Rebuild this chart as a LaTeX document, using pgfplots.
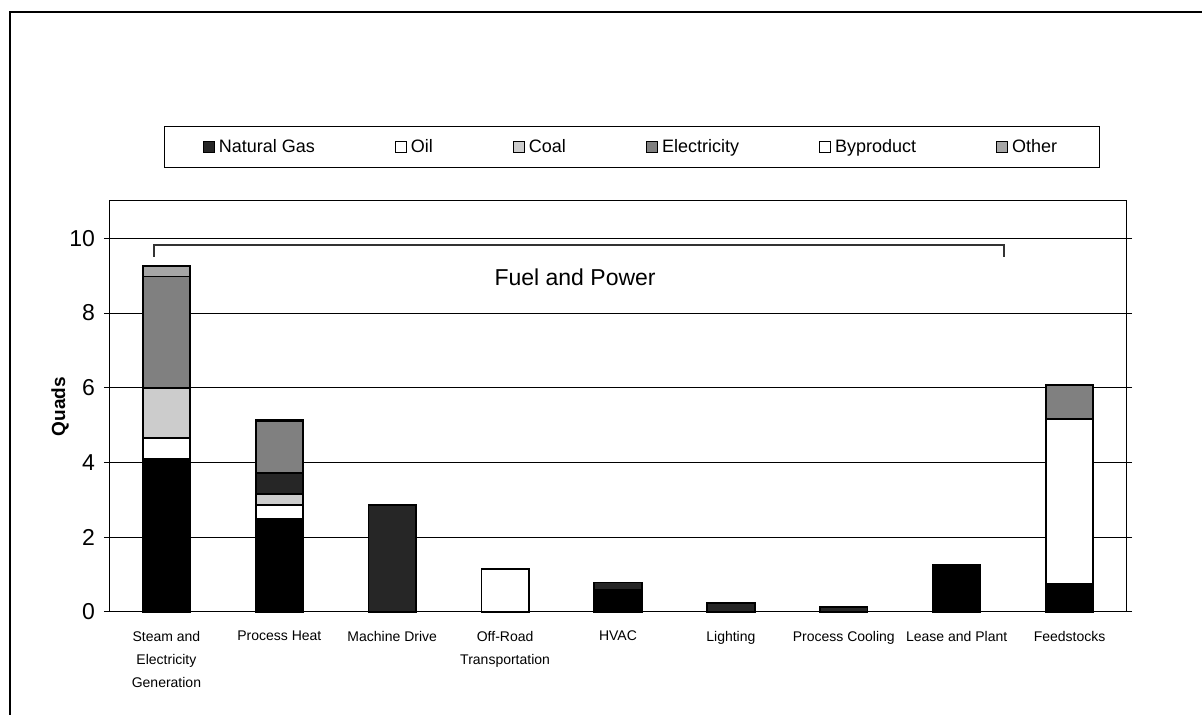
\documentclass[border=0pt]{standalone}
\usepackage{fontspec}
\setmainfont{Liberation Sans}
\usepackage{pgfplots}
\pgfplotsset{compat=1.18}

\definecolor{hatchgray}{gray}{0.50}
\definecolor{lightgray}{gray}{0.80}
\definecolor{othergray}{gray}{0.65}
\definecolor{elecdark}{gray}{0.15}

\begin{document}
\begin{tikzpicture}
\useasboundingbox (0,0) rectangle (601pt,357.5pt);
% outer frame
\draw[line width=1pt] (5pt,0pt) -- (5pt,351.5pt) -- (601pt,351.5pt);
\begin{axis}[
  at={(55pt,51.5pt)}, anchor=south west,
  scale only axis,
  width=508pt, height=205.5pt,
  xmin=-0.5, xmax=8.5,
  ymin=0, ymax=11,
  ybar stacked,
  bar width=0.42,
  ytick={0,2,4,6,8,10},
  ymajorgrids,
  grid style={black, line width=0.5pt},
  axis line style={black, line width=0.5pt},
  /pgf/number format/assume math mode=true,
  yticklabel style={font=\fontsize{11.5}{12}\selectfont, xshift=-1pt},
  ytick style={black, line width=0.5pt},
  major tick length=3pt,
  tick align=outside,
  y tick label style={anchor=east},
  xtick={0,1,2,3,4,5,6,7,8},
  xticklabels={{Steam and\\Electricity\\Generation},{Process Heat},{Machine Drive},{Off-Road\\Transportation},{HVAC},{Lighting},{Process Cooling},{Lease and Plant},{Feedstocks}},
  xticklabel style={font=\fontsize{7}{11.5}\selectfont, align=center, anchor=north, yshift=-3pt},
  x tick style={draw=none},
  extra x ticks={0.5,1.5,2.5,3.5,4.5,5.5,6.5,7.5},
  extra x tick labels={},
  extra x tick style={grid=none, tick align=center, major tick length=5pt, tick style={draw=black, line width=0.4pt}},
  ylabel={\textbf{Quads}},
  ylabel style={at={(axis description cs:-0.049,0.5)}, anchor=center, font=\fontsize{9.5}{10}\selectfont},
  legend columns=6,
  legend style={at={(0.5138,1.1314)}, anchor=center, draw=black, line width=0.5pt,
    font=\fontsize{9}{10}\selectfont, inner xsep=19pt, inner ysep=4pt,
    /tikz/every even column/.append style={column sep=38pt}},
  legend image code/.code={\draw[#1, line width=0.5pt] (0pt,-2.8pt) rectangle (5.5pt,2.8pt);},
  clip=false,
]
% Natural Gas
\addplot[fill=black, draw=black, line width=0.9pt, forget plot] coordinates {
 (0,4.10) (1,2.49) (2,0) (3,0) (4,0.60) (5,0) (6,0) (7,1.26) (8,0.75)};
% Oil
\addplot[fill=white, draw=black, line width=0.9pt, forget plot] coordinates {
 (0,0.56) (1,0.38) (2,0) (3,1.15) (4,0) (5,0) (6,0) (7,0) (8,4.42)};
% Coal
\addplot[fill=lightgray, draw=black, line width=0.9pt, forget plot] coordinates {
 (0,1.34) (1,0.29) (2,0) (3,0) (4,0) (5,0) (6,0) (7,0) (8,0)};
% Electricity
\addplot[fill=elecdark, draw=black, line width=0.9pt, forget plot] coordinates {
 (0,0) (1,0.57) (2,2.87) (3,0) (4,0.19) (5,0.25) (6,0.14) (7,0) (8,0)};
% Byproduct
\addplot[fill=hatchgray, draw=black, line width=0.9pt, forget plot] coordinates {
 (0,2.98) (1,1.37) (2,0) (3,0) (4,0) (5,0) (6,0) (7,0) (8,0.91)};
% Other
\addplot[fill=othergray, draw=black, line width=0.9pt, forget plot] coordinates {
 (0,0.29) (1,0.04) (2,0) (3,0) (4,0) (5,0) (6,0) (7,0) (8,0)};

\addlegendimage{fill=black!85, draw=black}
\addlegendentry{Natural Gas}
\addlegendimage{fill=white, draw=black}
\addlegendentry{Oil}
\addlegendimage{fill=lightgray, draw=black}
\addlegendentry{Coal}
\addlegendimage{fill=hatchgray, draw=black}
\addlegendentry{Electricity}
\addlegendimage{fill=white, draw=black}
\addlegendentry{Byproduct}
\addlegendimage{fill=othergray, draw=black}
\addlegendentry{Other}

% Fuel and Power bracket
\draw[line width=1pt, black!80] (axis cs:-0.107,9.51) -- (axis cs:-0.107,9.83) -- (axis cs:7.42,9.83) -- (axis cs:7.42,9.51);
\node[font=\fontsize{11.5}{12}\selectfont] at (axis cs:3.62,8.97) {Fuel and Power};
\end{axis}
\end{tikzpicture}
\end{document}
